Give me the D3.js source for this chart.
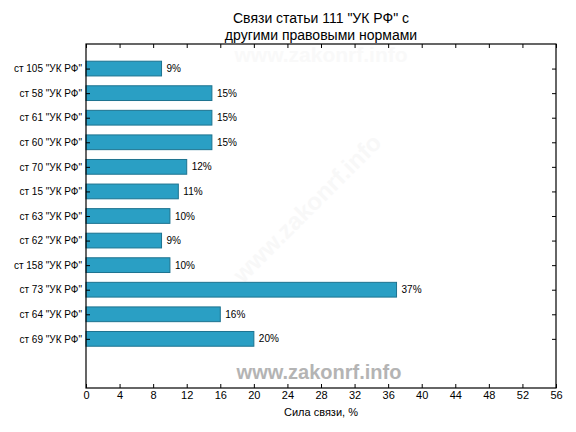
<html>
<head>
  <style type="text/css">
    body { margin: 0; background: #fff; }
    text { font-family: "Liberation Sans", Arial, sans-serif; }
  </style>
</head>
<body>
  <svg width="576" height="432"></svg>
  <script src="https://cdnjs.cloudflare.com/ajax/libs/d3/7.8.5/d3.min.js"></script>
  <script>
  // data, top to bottom
  const categories = ['ст 105 "УК РФ"', 'ст 58 "УК РФ"', 'ст 61 "УК РФ"', 'ст 60 "УК РФ"',
    'ст 70 "УК РФ"', 'ст 15 "УК РФ"', 'ст 63 "УК РФ"', 'ст 62 "УК РФ"',
    'ст 158 "УК РФ"', 'ст 73 "УК РФ"', 'ст 64 "УК РФ"', 'ст 69 "УК РФ"'];
  const values = [9, 15, 15, 15, 12, 11, 10, 9, 10, 37, 16, 20];
  const xTicks = [0, 4, 8, 12, 16, 20, 24, 28, 32, 36, 40, 44, 48, 52, 56];
  const titleLines = ['Связи статьи 111 "УК РФ" с', 'другими правовыми нормами'];
  const xLabel = 'Сила связи, %';

  const svg = d3.select("svg"),
    margin = {top: 44, right: 20, bottom: 44, left: 86},
    width = 576 - margin.left - margin.right,
    height = 432 - margin.top - margin.bottom;

  const g = svg.append("g")
    .attr("transform", "translate(" + margin.left + "," + margin.top + ")");

  const x = d3.scaleLinear().domain([0, 56]).range([0, width]);
  const y = d3.scaleLinear().domain([-1, 13]).range([0, height]);
  const barH = y(0.6) - y(0);

  // faint watermarks
  g.append("text")
    .attr("x", width / 2).attr("y", 18)
    .attr("text-anchor", "middle")
    .attr("font-size", 21).attr("font-weight", "bold")
    .attr("fill", "#f9f9f9")
    .text("www.zakonrf.info");
  g.append("text")
    .attr("transform", "translate(" + (width / 2 - 8) + "," + 170 + ") rotate(-45)")
    .attr("text-anchor", "middle")
    .attr("font-size", 24).attr("font-weight", "bold")
    .attr("fill", "#f8f8f8")
    .text("www.zakonrf.info");

  // bars
  g.selectAll(".bar")
    .data(values)
    .enter().append("rect")
      .attr("class", "bar")
      .attr("x", x(0))
      .attr("y", (d, i) => y(i) - barH / 2)
      .attr("width", d => x(d) - x(0))
      .attr("height", barH)
      .attr("fill", "#2a9fc4")
      .attr("stroke", "#1d7390")
      .attr("stroke-width", 1);

  g.selectAll(".val")
    .data(values)
    .enter().append("text")
      .attr("class", "val")
      .attr("x", d => x(d) + 5)
      .attr("y", (d, i) => y(i))
      .attr("dy", "0.35em")
      .attr("font-size", 10)
      .attr("fill", "#000")
      .text(d => d + "%");

  // bottom watermark
  g.append("text")
    .attr("x", width / 2 - 2).attr("y", 335)
    .attr("text-anchor", "middle")
    .attr("font-size", 20).attr("font-weight", "bold")
    .attr("fill", "#b4b4b4")
    .text("www.zakonrf.info");

  // axes with inward ticks
  const xb = g.append("g")
    .attr("transform", "translate(0," + height + ")")
    .call(d3.axisBottom(x).tickValues(xTicks).tickSizeInner(-4).tickSizeOuter(0).tickPadding(3));
  const xt = g.append("g")
    .call(d3.axisTop(x).tickValues(xTicks).tickSizeInner(-4).tickSizeOuter(0).tickFormat(""));
  const yl = g.append("g")
    .call(d3.axisLeft(y).tickValues(d3.range(0, 12)).tickSizeInner(-4).tickSizeOuter(0)
      .tickPadding(4).tickFormat((d, i) => categories[i]));
  const yr = g.append("g")
    .attr("transform", "translate(" + width + ",0)")
    .call(d3.axisRight(y).tickValues(d3.range(0, 12)).tickSizeInner(-4).tickSizeOuter(0).tickFormat(""));

  [xb, xt, yl, yr].forEach(a => {
    a.select(".domain").remove();
    a.selectAll("line").attr("stroke", "#000");
    a.selectAll("text").attr("fill", "#000").style("font-family", '"Liberation Sans", Arial, sans-serif');
  });
  xb.selectAll("text").attr("font-size", 11);
  yl.selectAll("text").attr("font-size", 10);

  g.append("rect")
    .attr("width", width).attr("height", height)
    .attr("fill", "none").attr("stroke", "#000").attr("stroke-width", 1.2);

  // title and label
  svg.selectAll(".title")
    .data(titleLines)
    .enter().append("text")
      .attr("class", "title")
      .attr("x", margin.left + width / 2)
      .attr("y", (d, i) => 23 + i * 17)
      .attr("text-anchor", "middle")
      .attr("font-size", 14)
      .text(d => d);

  svg.append("text")
    .attr("x", margin.left + width / 2)
    .attr("y", 416)
    .attr("text-anchor", "middle")
    .attr("font-size", 11)
    .text(xLabel);
  </script>
</body>
</html>
